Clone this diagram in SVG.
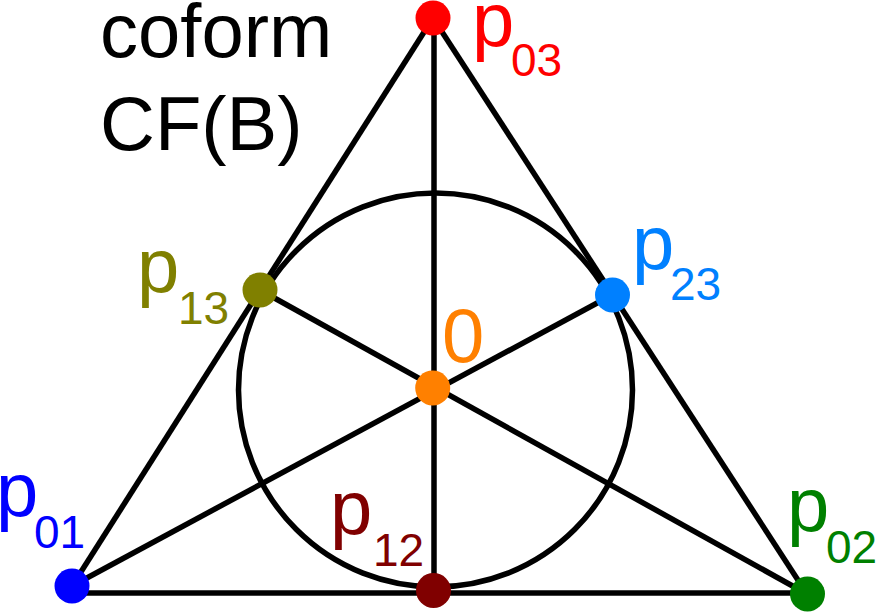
<svg xmlns="http://www.w3.org/2000/svg" width="880" height="612" viewBox="0 0 880 612">
<style>
.ln{stroke:#000;stroke-width:5.5;fill:none;stroke-linecap:butt}
text{font-family:"Liberation Sans",Arial,sans-serif;font-size:76px}
.sub{font-size:46px}
</style>
<rect width="880" height="612" fill="#fff"/>
<g id="connectors">
<line class="ln" x1="434" y1="18" x2="434" y2="591"/>
<line class="ln" x1="433" y1="18" x2="72" y2="586"/>
<line class="ln" x1="433" y1="18" x2="807" y2="594"/>
<line class="ln" x1="72" y1="593" x2="807" y2="593"/>
<line class="ln" x1="72" y1="586" x2="612" y2="295"/>
<line class="ln" x1="807" y1="594" x2="260" y2="290"/>
<circle class="ln" cx="435.5" cy="390" r="197"/>
</g>
<g id="title">
<text x="100" y="57">coform</text>
<text x="100" y="150">CF(B)</text>
</g>
<g id="p03"><circle cx="433" cy="18" r="17.5" fill="#ff0000"/><text fill="#ff0000"><tspan x="472" y="46">p</tspan><tspan class="sub" x="511" y="76">03</tspan></text></g>
<g id="p23"><circle cx="612.5" cy="295" r="17.5" fill="#0080ff"/><text fill="#0080ff"><tspan x="632" y="269">p</tspan><tspan class="sub" x="670" y="300">23</tspan></text></g>
<g id="p13"><circle cx="260" cy="290" r="17.5" fill="#808000"/><text fill="#808000"><tspan x="137" y="292">p</tspan><tspan class="sub" x="178" y="324">13</tspan></text></g>
<g id="n0"><circle cx="432.7" cy="388" r="17.5" fill="#ff8000"/><text x="442" y="362" fill="#ff8000">0</text></g>
<g id="p01"><circle cx="72" cy="586" r="17.5" fill="#0000ff"/><text fill="#0000ff"><tspan x="-4" y="516">p</tspan><tspan class="sub" x="34" y="548">01</tspan></text></g>
<g id="p12"><circle cx="433.5" cy="590.5" r="17.5" fill="#800000"/><text fill="#800000"><tspan x="330" y="534">p</tspan><tspan class="sub" x="373" y="566">12</tspan></text></g>
<g id="p02"><circle cx="807.5" cy="594" r="17.5" fill="#008000"/><text fill="#008000"><tspan x="787" y="531">p</tspan><tspan class="sub" x="826" y="563">02</tspan></text></g>
</svg>
